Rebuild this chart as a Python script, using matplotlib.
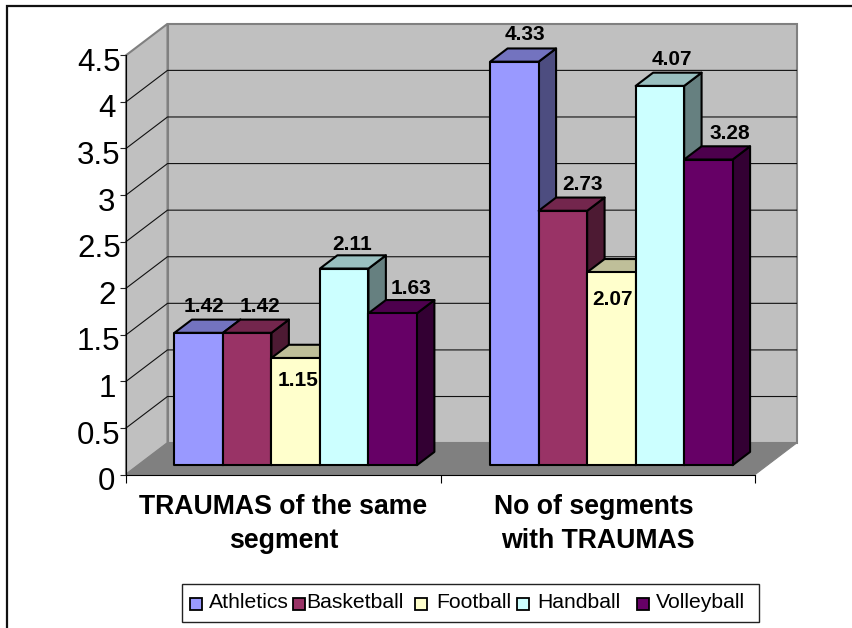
import matplotlib
matplotlib.use("Agg")
import matplotlib.pyplot as plt
from matplotlib.patches import Polygon, Rectangle
from matplotlib.lines import Line2D
from matplotlib.transforms import ScaledTranslation

plt.rcParams['font.family'] = ['Liberation Sans', 'DejaVu Sans']

# ---- data ----
categories = ["TRAUMAS of the same\nsegment", "No of segments \nwith TRAUMAS"]
series_names = ["Athletics", "Basketball", "Football", "Handball", "Volleyball"]
athletics = [1.42, 4.33]
basketball = [1.42, 2.73]
football = [1.15, 2.07]
handball = [2.11, 4.07]
volleyball = [1.63, 3.28]
y_ticks = [0, 0.5, 1, 1.5, 2, 2.5, 3, 3.5, 4, 4.5]
y_tick_labels = ["0", "0.5", "1", "1.5", "2", "2.5", "3", "3.5", "4", "4.5"]

series_values = [athletics, basketball, football, handball, volleyball]
colors = ["#9999FF", "#993366", "#FFFFCC", "#CCFFFF", "#660066"]

W, H = 852, 628
fig = plt.figure(figsize=(W / 100, H / 100), dpi=100, facecolor="white")

# front plane of the chart box, in pixels
L, R, T, B = 126, 755, 55.3, 474.6
ax = fig.add_axes([L / W, 1 - B / H, (R - L) / W, (B - T) / H], facecolor="none")
ax.set_xlim(-0.5, 1.5)
ax.set_ylim(0, 4.5)
for s in ["top", "right"]:
    ax.spines[s].set_visible(False)
for s in ["left", "bottom"]:
    ax.spines[s].set_linewidth(0.8)
    ax.spines[s].set_color("black")
    ax.spines[s].set_zorder(6)

px_x = 2.0 / (R - L)
px_y = 4.5 / (B - T)
DX, DY = 41.5, 31.5


def proj(x, v, depth):
    """Oblique projection of (x, value) at a depth (0 = front, 1 = back wall)."""
    return (x + depth * DX * px_x, v + depth * DY * px_y)


# walls and floor
x0, x1, vtop = -0.5, 1.5, 4.5
ax.add_patch(Polygon([proj(x0, 0, 1), proj(x1, 0, 1), proj(x1, vtop, 1), proj(x0, vtop, 1)],
                     fc="#C0C0C0", ec="#808080", lw=1.5, clip_on=False, zorder=1))
ax.add_patch(Polygon([proj(x0, 0, 0), proj(x0, 0, 1), proj(x0, vtop, 1), proj(x0, vtop, 0)],
                     fc="#C0C0C0", ec="#808080", lw=1.5, clip_on=False, zorder=1))
ax.add_patch(Polygon([proj(x0, 0, 0), proj(x1, 0, 0), proj(x1, 0, 1), proj(x0, 0, 1)],
                     fc="#808080", ec="#808080", lw=0.8, clip_on=False, zorder=1.5))

# gridlines on the walls
for v in y_ticks[1:-1]:
    a, b, c = proj(x0, v, 0), proj(x0, v, 1), proj(x1, v, 1)
    ax.plot([a[0], b[0], c[0]], [a[1], b[1], c[1]], color="#111111", lw=0.8,
            clip_on=False, zorder=2, solid_joinstyle="miter")

# bars
BAR_W = 48.5 * px_x
D0, D1 = 0.30, 0.72
group_half = 2.5 * BAR_W
group_shift = [0.0, 1.2 * px_x]
edge = dict(ec="black", lw=1.5, joinstyle="round", clip_on=False)


def shade(c, f):
    rgb = matplotlib.colors.to_rgb(c)
    return tuple(f * ch for ch in rgb)


z = 3
bar_tops = []
for g in range(len(categories)):
    for i, vals in enumerate(series_values):
        v = vals[g]
        xa = g + group_shift[g] - group_half + i * BAR_W
        xb = xa + BAR_W
        front = [proj(xa, 0, D0), proj(xb, 0, D0), proj(xb, v, D0), proj(xa, v, D0)]
        top = [proj(xa, v, D0), proj(xb, v, D0), proj(xb, v, D1), proj(xa, v, D1)]
        side = [proj(xb, 0, D0), proj(xb, 0, D1), proj(xb, v, D1), proj(xb, v, D0)]
        ax.add_patch(Polygon(side, fc=shade(colors[i], 0.5), zorder=z, **edge))
        ax.add_patch(Polygon(top, fc=shade(colors[i], 0.75), zorder=z, **edge))
        ax.add_patch(Polygon(front, fc=colors[i], zorder=z, **edge))
        z += 0.1
        bar_tops.append(((xa + xb) / 2, v, g, i))

# data labels: offsets in pixels from the centre of the front top edge
label_offsets = {
    (0, 0): (5, 26), (0, 1): (12.5, 26), (0, 2): (2, -23), (0, 3): (8, 24), (0, 4): (18, 25),
    (1, 0): (11, 27), (1, 1): (20, 26), (1, 2): (1, -27), (1, 3): (12, 26), (1, 4): (21, 26),
}
for xc, v, g, i in bar_tops:
    p = proj(xc, v, D0)
    ax.annotate(f"{v:.2f}", p, xytext=label_offsets[(g, i)], textcoords="offset pixels",
                ha="center", va="center", fontsize=15, fontweight="bold",
                color="black", zorder=20, annotation_clip=False)

# y axis
ax.set_yticks(y_ticks)
ax.set_yticklabels(y_tick_labels, fontsize=22.5)
ax.tick_params(axis="y", length=4, width=0.8, pad=1, color="#222222")
for lab, txt in zip(ax.get_yticklabels(), y_tick_labels):
    dx = 1.5 if "." in txt else -3.5
    lab.set_transform(lab.get_transform() +
                      ScaledTranslation(dx / 100, -4 / 100, fig.dpi_scale_trans))

# x axis: separators as major ticks, category names as minor tick labels
ax.set_xticks([-0.5, 0.5, 1.5])
ax.set_xticklabels([])
ax.tick_params(axis="x", which="major", length=6, width=0.8)
ax.set_xticks([0, 1], minor=True)
ax.set_xticklabels(categories, minor=True, fontsize=19.2, fontweight="bold",
                   linespacing=1.42, ma="center")
ax.tick_params(axis="x", which="minor", length=0, pad=14)

# legend box, laid out like the original
def fx(p):
    return p / W


def fy(p):
    return 1 - p / H


fig.add_artist(Rectangle((fx(182), fy(622)), (759 - 182) / W, (622 - 584) / H,
                         transform=fig.transFigure, fc="white", ec="#222222", lw=1.0))
swatch_x = [190, 293.3, 415, 516.7, 636.7]
text_x = [209, 306, 436, 537, 656]
for name, c, sx, tx in zip(series_names, colors, swatch_x, text_x):
    fig.add_artist(Rectangle((fx(sx), fy(610)), 12 / W, 12 / H, transform=fig.transFigure,
                             fc=c, ec="black", lw=1.3))
    fig.text(fx(tx), fy(602), name, fontsize=15.2, va="center", ha="left", color="black")

# outer frame (left and top edges are what shows)
fig.add_artist(Line2D([fx(6.5), fx(6.5), 1], [0, fy(5.5), fy(5.5)], transform=fig.transFigure,
                      color="#111111", lw=1.6, solid_joinstyle="miter"))

fig.savefig("out.png", dpi=100, facecolor="white")
